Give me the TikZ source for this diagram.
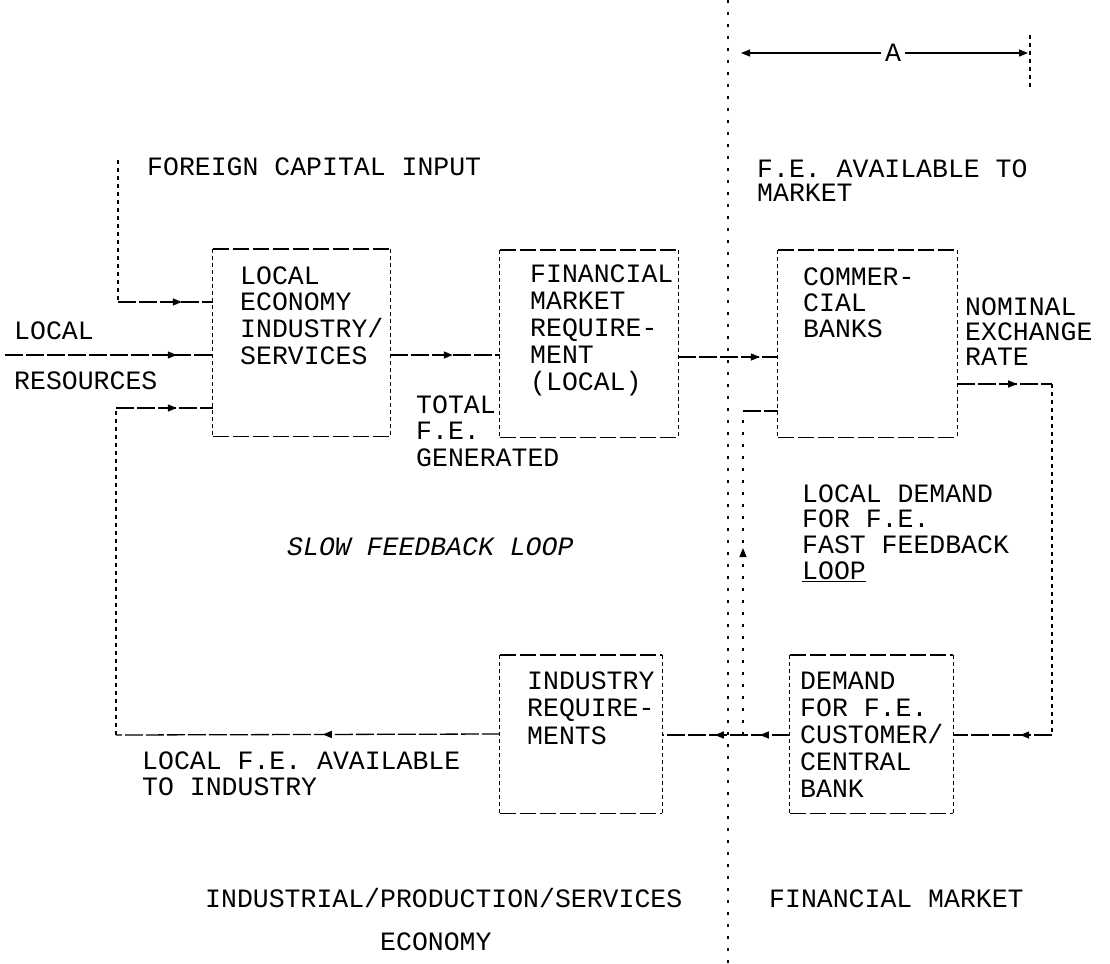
\documentclass[tikz,border=0pt]{standalone}
\usepackage{fontspec}
\setmonofont{Liberation Mono}
\usetikzlibrary{arrows.meta,decorations.markings}
\tikzset{
  tip/.tip={Triangle[length=9pt,width=7pt]},
  txt/.style={font=\ttfamily\fontsize{26.5}{26.5}\selectfont, anchor=base west, inner sep=0pt},
  boxnode/.style={draw=none, inner sep=0pt, minimum width=#1},
  hedge/.style={line width=1.4pt, dash pattern=on 16pt off 4pt},
  vedge/.style={line width=1.2pt, dash pattern=on 4pt off 3pt},
  hconn/.style={line width=1.3pt, dash pattern=on 18pt off 3pt},
  vconn/.style={line width=1.1pt, dash pattern=on 4pt off 4pt},
  divider/.style={line width=1.1pt, dash pattern=on 3pt off 9pt},
  amark/.style={postaction={decorate, decoration={markings, mark=at position #1 with {\arrow{tip}}}}},
  amarks/.style 2 args={postaction={decorate, decoration={markings,
      mark=at position #1 with {\arrow{tip}}, mark=at position #2 with {\arrow{tip}}}}},
}
\newcommand\drawboxedges[1]{%
  \draw[hedge] (#1.north west) -- (#1.north east);
  \draw[hedge] (#1.south west) -- (#1.south east);
  \draw[vedge] (#1.north west) -- (#1.south west);
  \draw[vedge] (#1.north east) -- (#1.south east);}
\begin{document}
\begin{tikzpicture}[x=1pt,y=-1pt]
\useasboundingbox[fill=white] (0,0) rectangle (1110,963);

% boxes
\node[boxnode=177pt, minimum height=187pt] (b1) at (301.5,342.5) {};
\node[boxnode=178pt, minimum height=187pt] (b2) at (589,343.5) {};
\node[boxnode=179pt, minimum height=187pt] (b3) at (867.5,343.5) {};
\node[boxnode=162pt, minimum height=158pt] (b4) at (581,734) {};
\node[boxnode=163pt, minimum height=158pt] (b5) at (871.5,734) {};
\drawboxedges{b1}
\drawboxedges{b2}
\drawboxedges{b3}
\drawboxedges{b4}
\drawboxedges{b5}

% box texts
\foreach \t [count=\i] in {LOCAL, ECONOMY, INDUSTRY/, SERVICES}
  \node[txt] (ta\i) at (240,{284+26.7*(\i-1)}) {\t};
\foreach \t [count=\i] in {FINANCIAL, MARKET, REQUIRE-, MENT, {(LOCAL)}}
  \node[txt] (tb\i) at (530,{282+27*(\i-1)}) {\t};
\foreach \t [count=\i] in {COMMER-, CIAL, BANKS}
  \node[txt] (tc\i) at (803,{285+26*(\i-1)}) {\t};
\foreach \t [count=\i] in {INDUSTRY, REQUIRE-, MENTS}
  \node[txt] (td\i) at (527,{689+27.5*(\i-1)}) {\t};
\foreach \t [count=\i] in {DEMAND, FOR F.E., CUSTOMER/, CENTRAL, BANK}
  \node[txt] (te\i) at (800,{689+27*(\i-1)}) {\t};

% coordinates
\coordinate (dTop) at (728,0);
\coordinate (dBot) at (728,963);
\coordinate (fcTop) at (118,160);
\coordinate (fcCorner) at (118,302);
\coordinate (lrStart) at (5,355);
\coordinate (fbBL) at (116,735);
\coordinate (fbTL) at (116,408);
\coordinate (r1) at (0,355);
\coordinate (r2) at (0,357);
\coordinate (rTop) at (1052,384);
\coordinate (rBot) at (1052,735);
\coordinate (ldBot) at (743,735);
\coordinate (ldTop) at (743,411);
\coordinate (dimL) at (741,53);
\coordinate (dimR) at (1028,53);
\coordinate (barT) at (1030,35);
\coordinate (barB) at (1030,90);

% divider
\draw[divider] (dTop) -- (dBot);

% dimension A
\draw[vconn] (barT) -- (barB);
\draw[line width=1.2pt, tip-tip] (dimL) -- node[pos=0.53, fill=white, inner sep=4pt, font=\ttfamily\fontsize{26.5}{26.5}\selectfont] (dimA) {A} (dimR);

% inputs to box 1
\draw[vconn] (fcTop) -- (fcCorner);
\draw[hconn, amark=-31pt] (fcCorner) -- (fcCorner -| b1.west);
\draw[hconn, amark=-36pt] (lrStart) -- (lrStart -| b1.west);

% slow feedback loop
\draw[hconn, amark=177pt] (b4.west) -- (fbBL);
\draw[vconn] (fbBL) -- (fbTL);
\draw[hconn, amark=-36pt] (fbTL) -- (fbTL -| b1.west);

% main chain
\draw[hconn, amark=-47pt] (b1.east |- r1) -- (b2.west |- r1);
\draw[hconn, amark=-18pt] (b2.east |- r2) -- (b3.west |- r2);

% nominal exchange rate loop
\draw[hconn, amark=60pt] (b3.east |- rTop) -- (rTop);
\draw[vconn] (rTop) -- (rBot);
\draw[hconn, amark=-67pt] (rBot) -- (b5.east |- rBot);
\draw[hconn, amarks={30pt}{75pt}] (b5.west |- rBot) -- (b4.east |- rBot);

% local demand (fast feedback)
\draw[divider, amark=187pt] (ldBot) -- (ldTop);
\draw[hconn] (ldTop) -- (ldTop -| b3.west);

% free texts
\node[txt] (foreign) at (147,175) {FOREIGN CAPITAL INPUT};
\node[txt] (localL) at (14,339) {LOCAL};
\node[txt] (resources) at (14,389) {RESOURCES};
\foreach \t [count=\i] in {TOTAL, F.E., GENERATED}
  \node[txt] (tf\i) at (416,{413+26.5*(\i-1)}) {\t};
\node[txt, font=\ttfamily\itshape\fontsize{26.5}{26.5}\selectfont] (slow) at (287,555) {SLOW FEEDBACK LOOP};
\foreach \t [count=\i] in {F.E. AVAILABLE TO, MARKET}
  \node[txt] (tg\i) at (757,{177+24*(\i-1)}) {\t};
\foreach \t [count=\i] in {NOMINAL, EXCHANGE, RATE}
  \node[txt] (th\i) at (965,{315+25*(\i-1)}) {\t};
\foreach \t [count=\i] in {LOCAL DEMAND, FOR F.E., FAST FEEDBACK, \underline{LOOP}}
  \node[txt] (ti\i) at (802,{502+25.7*(\i-1)}) {\t};
\foreach \t [count=\i] in {LOCAL F.E. AVAILABLE, TO INDUSTRY}
  \node[txt] (tj\i) at (142,{769+26*(\i-1)}) {\t};
\node[txt] (indprod) at (205,907) {INDUSTRIAL/PRODUCTION/SERVICES};
\node[txt] (economy) at (380,950) {ECONOMY};
\node[txt] (finmkt) at (769,907) {FINANCIAL MARKET};
\end{tikzpicture}
\end{document}
